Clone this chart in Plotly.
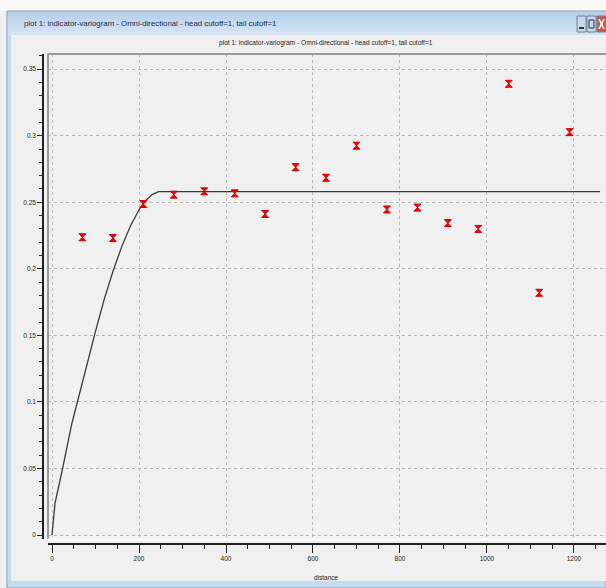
import plotly.graph_objects as go

# ---- data ----
lag_distance = [70, 140, 210, 280, 350, 420, 490, 560, 630, 700, 770, 840, 910, 980, 1050, 1120, 1190]
gamma_exp = [0.2237, 0.2231, 0.2487, 0.2557, 0.2582, 0.2567, 0.2412, 0.2764, 0.2684, 0.2925,
             0.2446, 0.2460, 0.2343, 0.2300, 0.3390, 0.1820, 0.3027]
model_h = [0, 7, 25, 45, 60, 80, 100, 120, 140, 160, 180, 200, 215, 230, 245, 1260]
model_gamma = [0.0, 0.024, 0.051, 0.083, 0.102, 0.128, 0.153, 0.177, 0.198, 0.2165, 0.232,
               0.2444, 0.2512, 0.2558, 0.258, 0.258]
x_ticks = [0, 200, 400, 600, 800, 1000, 1200]
y_ticks = [0, 0.05, 0.1, 0.15, 0.2, 0.25, 0.3, 0.35]
y_tick_text = ["0", "0.05", "0.1", "0.15", "0.2", "0.25", "0.3", "0.35"]
win_title = "plot 1: indicator-variogram - Omni-directional - head cutoff=1, tail cutoff=1"
plot_title = "plot 1: indicator-variogram - Omni-directional - head cutoff=1, tail cutoff=1"
x_title = "distance"

W, H = 606, 588
ML, MR, MT, MB = 30, 0, 54, 30
PW, PH = W - ML - MR, H - MT - MB


def px(x):
    return (x - ML) / PW


def py(y):
    return (H - MB - y) / PH


FONT = "Liberation Sans Narrow, Arial Narrow, Liberation Sans, Arial"

fig = go.Figure()
fig.add_trace(go.Scatter(x=model_h, y=model_gamma, mode="lines",
                         line=dict(color="#3a3a3a", width=1.3), hoverinfo="skip"))
fig.add_trace(go.Scatter(x=lag_distance, y=gamma_exp, mode="markers",
                         marker=dict(symbol="hourglass", size=7, color="#ff0000",
                                     line=dict(color="#d00000", width=1))))

shapes = []
# top white strip
shapes.append(dict(type="rect", xref="paper", yref="paper", x0=px(0), x1=px(W), y0=py(0), y1=py(11),
                   fillcolor="#f8f8f8", line=dict(width=0), layer="below"))
# window left frame
shapes.append(dict(type="rect", xref="paper", yref="paper", x0=px(7), x1=px(W), y0=py(11), y1=py(H),
                   fillcolor="#c4dcf2", line=dict(color="#8a9bb0", width=1), layer="below"))
# title bar gradient
bar_cols = ["#b8d0ea", "#bed4ec", "#c4d8ee", "#cadcf0", "#d0e0f2", "#d6e4f4"]
y0 = 12
step = 23 / len(bar_cols)
for i, c in enumerate(bar_cols):
    shapes.append(dict(type="rect", xref="paper", yref="paper", x0=px(8), x1=px(W),
                       y0=py(y0 + i * step), y1=py(y0 + (i + 1) * step + 0.5),
                       fillcolor=c, line=dict(width=0), layer="below"))
# content area
shapes.append(dict(type="rect", xref="paper", yref="paper", x0=px(11), x1=px(W), y0=py(35), y1=py(581),
                   fillcolor="#f0f0f0", line=dict(width=0), layer="below"))
# buttons
for (a, b, c) in [(577, 586, "#c8d8ea"), (587, 596, "#c8d8ea"), (597, 606, "#c85a4a")]:
    shapes.append(dict(type="rect", xref="paper", yref="paper", x0=px(a), x1=px(b), y0=py(16), y1=py(32),
                       fillcolor=c, line=dict(color="#6a7f96", width=1), layer="above"))
shapes.append(dict(type="line", xref="paper", yref="paper", x0=px(579), x1=px(584), y0=py(28), y1=py(28),
                   line=dict(color="#333", width=2)))
shapes.append(dict(type="rect", xref="paper", yref="paper", x0=px(589), x1=px(594), y0=py(20), y1=py(28),
                   line=dict(color="#333", width=1)))
shapes.append(dict(type="line", xref="paper", yref="paper", x0=px(599), x1=px(604), y0=py(19), y1=py(29),
                   line=dict(color="#fff", width=1.5)))
shapes.append(dict(type="line", xref="paper", yref="paper", x0=px(599), x1=px(604), y0=py(29), y1=py(19),
                   line=dict(color="#fff", width=1.5)))
# plot frame (sunken)
shapes.append(dict(type="line", xref="paper", yref="paper", x0=px(47.5), x1=px(W), y0=py(54), y1=py(54),
                   line=dict(color="#9a9a9a", width=2)))
shapes.append(dict(type="line", xref="paper", yref="paper", x0=px(48), x1=px(48), y0=py(54), y1=py(539),
                   line=dict(color="#9a9a9a", width=2)))
shapes.append(dict(type="line", xref="paper", yref="paper", x0=px(48), x1=px(W), y0=py(539.5), y1=py(539.5),
                   line=dict(color="#ffffff", width=2)))

annotations = [
    dict(text=win_title, xref="paper", yref="paper", x=px(22), y=py(23), xanchor="left", yanchor="middle",
         showarrow=False, font=dict(family=FONT, size=7.8, color="#1e2a3a")),
    dict(text=plot_title, xref="paper", yref="paper", x=px(326), y=py(43), xanchor="center", yanchor="middle",
         showarrow=False, font=dict(family=FONT, size=6.6, color="#222")),
    dict(text=x_title, xref="paper", yref="paper", x=px(326), y=py(577), xanchor="center", yanchor="middle",
         showarrow=False, font=dict(family=FONT, size=6.5, color="#222")),
]

fig.update_layout(
    width=W, height=H,
    margin=dict(l=ML, r=MR, t=MT, b=MB, pad=0),
    paper_bgcolor="#f0f0f0", plot_bgcolor="#f0f0f0",
    showlegend=False,
    shapes=shapes, annotations=annotations,
    xaxis=dict(domain=[px(48), 1], range=[-9.2, 1273.6], anchor="free", position=py(544),
               tickvals=x_ticks, ticks="outside", ticklen=8, tickwidth=1, tickcolor="#222",
               showline=True, linecolor="#222", linewidth=1.5,
               minor=dict(dtick=50, tick0=0, ticks="outside", ticklen=4, tickcolor="#222", showgrid=False),
               showgrid=True, gridcolor="#b8b8b8", griddash="3px,3px", gridwidth=1,
               zeroline=False, tickfont=dict(family=FONT, size=6.5, color="#222")),
    yaxis=dict(domain=[py(539), 1], range=[-0.003, 0.3614], anchor="free", position=px(43),
               tickvals=y_ticks, ticktext=y_tick_text, ticks="outside", ticklen=5, tickwidth=1,
               tickcolor="#222", showline=True, linecolor="#222", linewidth=1.5,
               minor=dict(dtick=0.01, tick0=0, ticks="outside", ticklen=3, tickcolor="#222", showgrid=False),
               showgrid=True, gridcolor="#b4b4b4", griddash="dot", gridwidth=1,
               zeroline=False, tickfont=dict(family=FONT, size=6.5, color="#222")),
)

fig.write_html("out.html")
